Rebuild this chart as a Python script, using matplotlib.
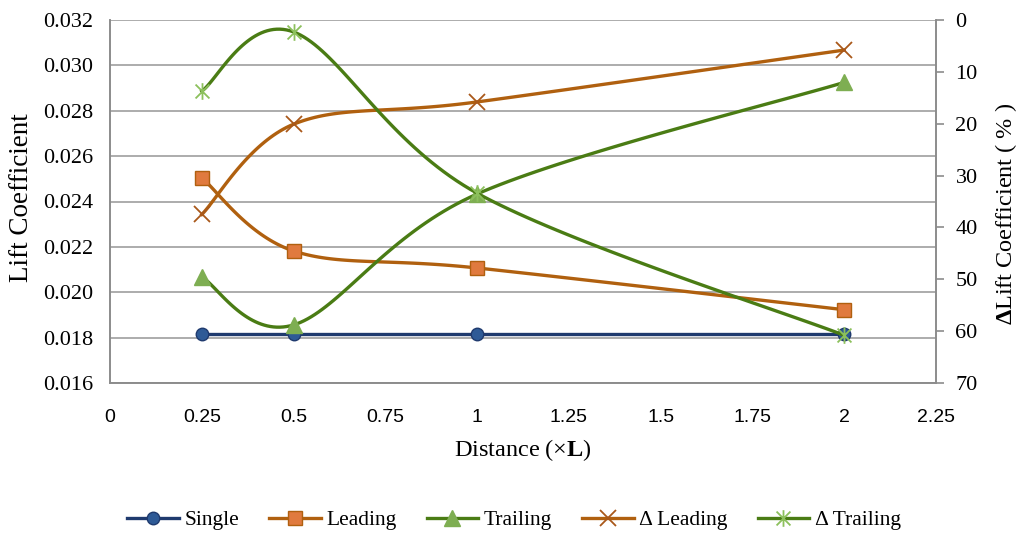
import numpy as np
import matplotlib
matplotlib.use("Agg")
import matplotlib.pyplot as plt
from matplotlib.path import Path
from matplotlib.lines import Line2D

plt.rcParams['mathtext.fontset'] = 'custom'
plt.rcParams['mathtext.rm'] = 'Liberation Serif'
plt.rcParams['mathtext.bf'] = 'Liberation Serif:bold'

# ---- data ----
distance = [0.25, 0.5, 1.0, 2.0]
single = [0.01815, 0.01815, 0.01815, 0.01815]
leading = [0.02504, 0.02182, 0.02107, 0.01923]
trailing = [0.02067, 0.01856, 0.02433, 0.02925]
delta_leading = [37.5, 20.1, 15.8, 5.8]
delta_trailing = [13.7, 2.3, 33.4, 60.8]
x_ticks = [0, 0.25, 0.5, 0.75, 1, 1.25, 1.5, 1.75, 2, 2.25]
x_tick_labels = ["0", "0.25", "0.5", "0.75", "1", "1.25", "1.5", "1.75", "2", "2.25"]
left_ticks = [0.016, 0.018, 0.020, 0.022, 0.024, 0.026, 0.028, 0.030, 0.032]
right_ticks = [0, 10, 20, 30, 40, 50, 60, 70]


def smooth(xs, ys, n=40):
    """Excel-like smoothed line (Catmull-Rom as cubic Bezier)."""
    P = np.column_stack([xs, ys]).astype(float)
    ext = np.vstack([P[0], P, P[-1]])
    out = []
    t = np.linspace(0, 1, n)[:, None]
    for i in range(len(P) - 1):
        p0, p1, p2, p3 = ext[i], ext[i + 1], ext[i + 2], ext[i + 3]
        c1 = p1 + (p2 - p0) / 6.0
        c2 = p2 - (p3 - p1) / 6.0
        seg = ((1 - t) ** 3) * p1 + 3 * ((1 - t) ** 2) * t * c1 + 3 * (1 - t) * t ** 2 * c2 + t ** 3 * p2
        out.append(seg if i == 0 else seg[1:])
    s = np.vstack(out)
    return s[:, 0], s[:, 1]


star_path = Path([(-1, -1), (1, 1), (-1, 1), (1, -1), (0, -1.2), (0, 1.2)],
                 [Path.MOVETO, Path.LINETO, Path.MOVETO, Path.LINETO, Path.MOVETO, Path.LINETO])

c_single_line = '#1f3a6e'
c_single_face = '#2e5a96'
c_lead_line = '#b0600f'
c_lead_face = '#e07a3e'
c_trail_line = '#4a7c14'
c_trail_face = '#7eae52'
c_dl = '#a9581a'
c_dt = '#8cc05c'

serif = 'Liberation Serif'

fig = plt.figure(figsize=(10.19, 5.36), dpi=100)
ax = fig.add_axes([110 / 1019, 1 - 383 / 536, (936 - 110) / 1019, (383 - 20) / 536])
ax2 = ax.twinx()

ax.set_xlim(0, 2.25)
ax.set_ylim(0.016, 0.032)
ax2.set_ylim(70, 0)

ax.set_yticks(left_ticks)
ax.set_yticklabels([f"{v:.3f}" for v in left_ticks], family=serif, fontsize=16)
ax2.set_yticks(right_ticks)
ax2.set_yticklabels([str(v) for v in right_ticks], family=serif, fontsize=16)
ax.set_xticks(x_ticks)
ax.set_xticklabels(x_tick_labels, family='Liberation Sans', fontsize=14)

ax.grid(axis='y', color='#a6a6a6', linewidth=1.3)
ax.set_axisbelow(True)
for a in (ax, ax2):
    for sp in a.spines.values():
        sp.set_color('#8c8c8c')
        sp.set_linewidth(1.2)
    a.spines['top'].set_visible(False)
ax.tick_params(axis='y', length=0, pad=12)
ax.tick_params(axis='x', length=0, pad=19)
ax2.tick_params(axis='y', length=6, color='#8c8c8c', width=1.2, pad=8)

lw = 2.4
# Single
ax.plot(distance, single, color=c_single_line, lw=lw, zorder=3)
ax.plot(distance, single, ls='none', marker='o', ms=9, mfc=c_single_face, mec=c_single_line, mew=1, zorder=4)
# Leading
sx, sy = smooth(distance, leading)
ax.plot(sx, sy, color=c_lead_line, lw=lw, zorder=3)
ax.plot(distance, leading, ls='none', marker='s', ms=10, mfc=c_lead_face, mec=c_lead_line, mew=1, zorder=4)
# Trailing
sx, sy = smooth(distance, trailing)
ax.plot(sx, sy, color=c_trail_line, lw=lw, zorder=3)
ax.plot(distance, trailing, ls='none', marker='^', ms=11, mfc=c_trail_face, mec=c_trail_face, mew=1, zorder=4)
# Delta Leading
sx, sy = smooth(distance, delta_leading)
ax2.plot(sx, sy, color=c_lead_line, lw=lw, zorder=3)
ax2.plot(distance, delta_leading, ls='none', marker='x', ms=11, mec=c_dl, mew=1.3, zorder=4)
# Delta Trailing
sx, sy = smooth(distance, delta_trailing)
ax2.plot(sx, sy, color=c_trail_line, lw=lw, zorder=3)
ax2.plot(distance, delta_trailing, ls='none', marker=star_path, ms=12, mec=c_dt, mew=1.3, zorder=4)

ax.set_ylabel("Lift Coefficient", family=serif, fontsize=19.5, va='center', ha='center')
ax.yaxis.set_label_coords((22 - 110) / 826, (383 - 198) / 363)
ax.set_xlabel(r"Distance (×$\mathbf{L}$)", family=serif, fontsize=17.5, va='center', ha='center')
ax.xaxis.set_label_coords((523 - 110) / 826, (383 - 450) / 363)
ax2.set_ylabel(r"$\mathbf{\Delta}$Lift Coefficient ( % )", family=serif, fontsize=17.5, va='center', ha='center')
ax2.yaxis.set_label_coords((1006 - 110) / 826, (383 - 214) / 363)

handles = [
    Line2D([], [], color=c_single_line, lw=lw, marker='o', ms=9, mfc=c_single_face, mec=c_single_line),
    Line2D([], [], color=c_lead_line, lw=lw, marker='s', ms=10, mfc=c_lead_face, mec=c_lead_line),
    Line2D([], [], color=c_trail_line, lw=lw, marker='^', ms=11, mfc=c_trail_face, mec=c_trail_face),
    Line2D([], [], color=c_lead_line, lw=lw, marker='x', ms=11, mec=c_dl, mew=1.3),
    Line2D([], [], color=c_trail_line, lw=lw, marker=star_path, ms=12, mec=c_dt, mew=1.3),
]
labels = ["Single", "Leading", "Trailing", "Δ Leading", "Δ Trailing"]
fig.legend(handles, labels, loc='center', bbox_to_anchor=(514 / 1019, 1 - 520 / 536), ncol=5, frameon=False,
           prop={'family': serif, 'size': 15.5}, handlelength=2.4, columnspacing=1.4, handletextpad=0.25)

fig.savefig("out.png", dpi=100)
